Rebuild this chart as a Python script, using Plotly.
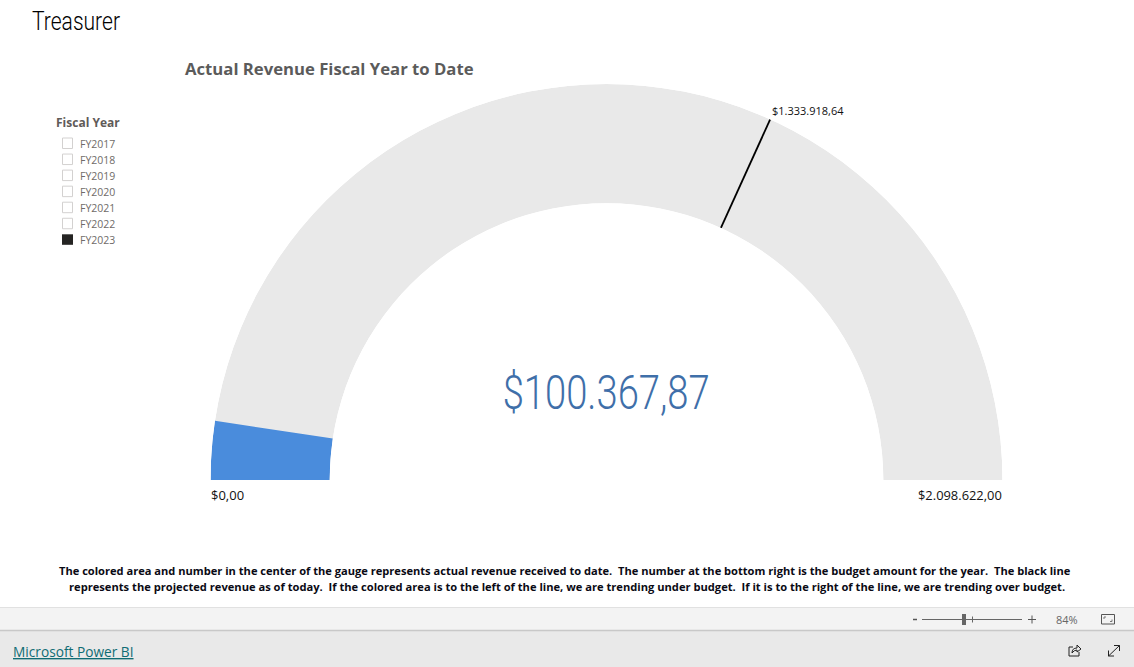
import json
import plotly.graph_objects as go

# ---- data ----
page_title = "Treasurer"
chart_title = "Actual Revenue Fiscal Year to Date"
slicer_title = "Fiscal Year"
fiscal_years = ["FY2017", "FY2018", "FY2019", "FY2020", "FY2021", "FY2022", "FY2023"]
selected_year = "FY2023"
actual_revenue = 100367.87
projected_revenue = 1333918.64
budget = 2098622.00
min_value = 0.0
note_lines = [
    "The colored area and number in the center of the gauge represents actual revenue received to date.  The number at the bottom right is the budget amount for the year.  The black line",
    "represents the projected revenue as of today.  If the colored area is to the left of the line, we are trending under budget.  If it is to the right of the line, we are trending over budget.",
]
zoom_label = "84%"
link_label = "Microsoft Power BI"

W, H = 1134, 667


def money(v):
    s = f"{v:,.2f}"
    return "$" + s.replace(",", "#").replace(".", ",").replace("#", ".")


def deg(v):
    return (v - min_value) / (budget - min_value) * 180.0


def px(x):
    return x / W


def py(y):
    return 1 - y / H


shapes = []
annots = []


def rect(x0, y0, x1, y1, fill="rgba(0,0,0,0)", line=None, lw=1, layer="above"):
    shapes.append(dict(type="rect", xref="paper", yref="paper", x0=px(x0), x1=px(x1), y0=py(y0), y1=py(y1),
                       fillcolor=fill, line=dict(color=line or "rgba(0,0,0,0)", width=lw if line else 0), layer=layer))


def seg(x0, y0, x1, y1, color, lw=1):
    shapes.append(dict(type="line", xref="paper", yref="paper", x0=px(x0), x1=px(x1), y0=py(y0), y1=py(y1),
                       line=dict(color=color, width=lw)))


def text(x, y, s, size, color, family="Open Sans", anchor="left", weight=None):
    font = dict(family=family, size=size, color=color)
    if weight:
        font["weight"] = weight
    annots.append(dict(xref="paper", yref="paper", x=px(x), y=py(y), text=s, showarrow=False, xanchor=anchor,
                       yanchor="middle", align=anchor, borderpad=0, borderwidth=0, font=font))


fig = go.Figure()
fig.add_trace(go.Barpolar(
    theta=[deg(budget) / 2], width=[deg(budget)], r=[1], base=[0],
    marker=dict(color="#e9e9e9", line=dict(width=0)), hoverinfo="skip", subplot="polar"))
fig.add_trace(go.Barpolar(
    theta=[deg(actual_revenue) / 2], width=[deg(actual_revenue)], r=[1], base=[0],
    marker=dict(color="#4a8cdc", line=dict(width=0)), hoverinfo="skip", subplot="polar"))
fig.add_trace(go.Scatterpolar(
    theta=[deg(projected_revenue), deg(projected_revenue)], r=[0, 1], mode="lines",
    line=dict(color="#000000", width=1.8), hoverinfo="skip", subplot="polar"))

# page text
text(32, 22, page_title, 25, "#000000", "Roboto", weight=300)
text(184.5, 68.5, f"<b>{chart_title}</b>", 16.7, "#5b5b5b")
text(55.5, 122, f"<b>{slicer_title}</b>", 12, "#5f5b58")
for i, fy in enumerate(fiscal_years):
    y = 143.5 + 16.05 * i
    if fy == selected_year:
        rect(62, y - 5.5, 73, y + 5, fill="#252423", layer="above")
    else:
        rect(62.5, y - 5.5, 72.5, y + 5, fill="#ffffff", line="#d3d1d0")
    text(80, y + 0.5, fy, 10.5, "#6f6b68")

# gauge labels
text(606, 392, money(actual_revenue), 48, "#3f6fa9", "Roboto", "center", weight=300)
text(772, 111, money(projected_revenue), 11, "#111111")
text(211, 495, money(min_value), 13, "#111111")
text(1002, 495, money(budget), 12.9, "#111111", anchor="right")

# note
text(565, 570, f"<b>{note_lines[0]}</b>", 11.1, "#0a0a14", anchor="center")
text(566.5, 586, f"<b>{note_lines[1]}</b>", 11.15, "#0a0a14", anchor="center")

# report footer
rect(0, 607, W, 630, fill="#f3f3f3", layer="below")
rect(0, 630, W, H, fill="#e9e9e9", layer="below")
seg(0, 607.5, W, 607.5, "#e1e1e1", 1)
seg(0, 630.5, W, 630.5, "#c8c8c8", 1.5)
seg(913, 619.5, 917, 619.5, "#555555", 1.5)
seg(922, 619.5, 1022, 619.5, "#666666", 1)
seg(972.5, 616.5, 972.5, 622.5, "#666666", 1)
rect(962, 614, 966, 625, fill="#666666")
seg(1028, 619.5, 1036, 619.5, "#555555", 1)
seg(1032, 615.5, 1032, 623.5, "#555555", 1)
text(1067, 619, zoom_label, 11, "#666666", anchor="center")
rect(1101.5, 614.5, 1114.5, 624, line="#555555")
seg(1104, 617, 1106, 617, "#777777", 1)
seg(1104, 617, 1104, 619, "#777777", 1)
seg(1112, 621.5, 1110, 621.5, "#777777", 1)
seg(1112, 621.5, 1112, 619.5, "#777777", 1)
text(13, 651, f"<u>{link_label}</u>", 13.7, "#0f6c74")
# share icon
shapes.append(dict(type="path", xref="paper", yref="paper",
                   path=f"M {px(1073)} {py(647)} L {px(1069)} {py(647)} L {px(1069)} {py(656)} L {px(1079)} {py(656)} L {px(1079)} {py(652)}",
                   line=dict(color="#222222", width=1)))
shapes.append(dict(type="path", xref="paper", yref="paper",
                   path=f"M {px(1072)} {py(653)} Q {px(1072)} {py(648)} {px(1077)} {py(648)} L {px(1077)} {py(645)} L {px(1081)} {py(649)} L {px(1077)} {py(652)} L {px(1077)} {py(650)} Q {px(1074)} {py(650)} {px(1072)} {py(653)}",
                   line=dict(color="#222222", width=1)))
# expand icon
seg(1108.5, 656, 1119.5, 645.5, "#222222", 1)
seg(1114, 645.5, 1119.5, 645.5, "#222222", 1)
seg(1119.5, 645.5, 1119.5, 651, "#222222", 1)
seg(1108.5, 656, 1108.5, 650.5, "#222222", 1)
seg(1108.5, 656, 1114, 656, "#222222", 1)

fig.update_layout(
    width=W, height=H, autosize=False,
    margin=dict(l=0, r=0, t=0, b=0),
    paper_bgcolor="#ffffff", plot_bgcolor="#ffffff",
    showlegend=False, shapes=shapes, annotations=annots,
    polar=dict(
        domain=dict(x=[px(210.5), px(1002.5)], y=[py(480), py(84)]),
        sector=[0, 180], hole=0.699, bgcolor="rgba(0,0,0,0)",
        radialaxis=dict(range=[0, 1], visible=False, showgrid=False, showticklabels=False, ticks="", showline=False),
        angularaxis=dict(rotation=180, direction="clockwise", thetaunit="degrees", visible=False,
                         showgrid=False, showticklabels=False, ticks="", showline=False),
        barmode="overlay",
    ),
)

# The reference's condensed faces are not installed: fit these real text elements to their measured widths.
fit_widths = {page_title: 88, money(actual_revenue): 207}
post = (
    "document.body.style.margin='0';"
    f"var fit={json.dumps(fit_widths)};"
    "document.querySelectorAll('.annotation-text').forEach(function(t){"
    "var w=fit[t.textContent];if(w){t.setAttribute('textLength',w);t.setAttribute('lengthAdjust','spacingAndGlyphs');}});"
)
fig.write_html("out.html", config=dict(displayModeBar=False), post_script=post)
